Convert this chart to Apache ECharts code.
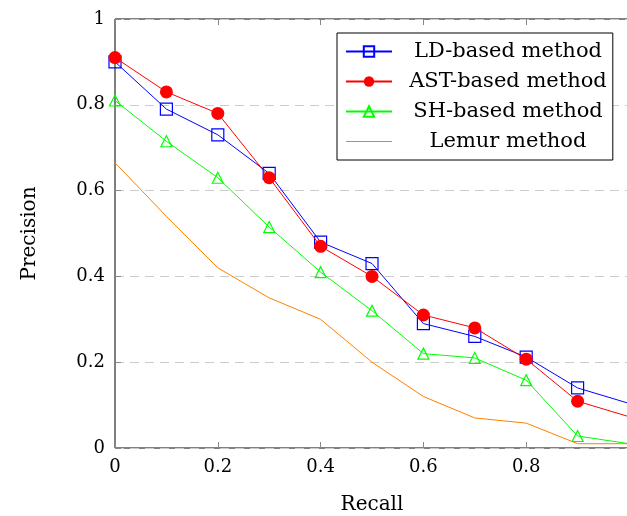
<!DOCTYPE html>
<html>
<head>
<meta charset="utf-8">
<script src="https://cdn.jsdelivr.net/npm/echarts@6/dist/echarts.min.js"></script>
<style>
  html, body { margin: 0; padding: 0; background: #fff; }
  #main { width: 627px; height: 516px; }
</style>
</head>
<body>
<div id="main"></div>
<script>
// recall values (x)
var recall = [0, 0.1, 0.2, 0.3, 0.4, 0.5, 0.6, 0.7, 0.8, 0.9, 1.0];

// precision per method
var ldBased = [0.90, 0.79, 0.73, 0.64, 0.48, 0.43, 0.29, 0.26, 0.212, 0.14, 0.104];
var astBased = [0.91, 0.83, 0.78, 0.63, 0.47, 0.40, 0.31, 0.28, 0.207, 0.109, 0.073];
var shBased = [0.81, 0.715, 0.63, 0.515, 0.41, 0.32, 0.22, 0.21, 0.158, 0.028, 0.01];
var lemur = [0.665, 0.54, 0.42, 0.35, 0.30, 0.20, 0.12, 0.07, 0.058, 0.01, 0.01];

var names = ['LD-based method', 'AST-based method', 'SH-based method', 'Lemur method'];

// last point sits on the cropped right edge, no marker there
function pairs(ys) {
  return recall.map(function (x, i) {
    if (i === recall.length - 1) return { value: [x, ys[i]], symbol: 'none' };
    return [x, ys[i]];
  });
}

function tickFmt(v) {
  if (v === 0) return '0';
  if (v === 1) return '1';
  return v.toFixed(1);
}

var font = 'DejaVu Serif';
var myChart = echarts.init(document.getElementById('main'));

myChart.setOption({
  animation: false,
  textStyle: { fontFamily: font },
  grid: {
    left: 115, top: 19, right: -2, bottom: 68,
    outerBoundsMode: 'none', containLabel: false,
    show: true, borderColor: '#000', borderWidth: 1
  },
  legend: {
    data: [
      { name: names[0] },
      { name: names[1] },
      { name: names[2] },
      { name: names[3], icon: 'path://M0,0h40v1h-40z' }
    ],
    orient: 'vertical',
    left: 337, top: 33,
    padding: [8, 6, 8, 8],
    itemGap: 9,
    itemWidth: 46, itemHeight: 13,
    backgroundColor: '#fff',
    borderColor: '#000', borderWidth: 1,
    formatter: function (n) { return '{c|' + n + '}'; },
    textStyle: {
      fontFamily: font,
      rich: { c: { width: 222, height: 22, align: 'center', fontSize: 21, fontFamily: font, color: '#000' } }
    }
  },
  xAxis: [{
    type: 'value', min: 0, max: 1, interval: 0.2,
    position: 'bottom',
    name: 'Recall', nameLocation: 'middle', nameGap: 47,
    nameTextStyle: { fontSize: 20, color: '#000', fontFamily: font },
    axisLine: { show: false },
    axisTick: { inside: true, length: 6, lineStyle: { color: '#888' } },
    axisLabel: {
      fontSize: 18, color: '#000', fontFamily: font, margin: 10,
      formatter: function (v) { return v === 1 ? '' : tickFmt(v); }
    },
    splitLine: { show: false }
  }, {
    type: 'value', min: 0, max: 1, interval: 0.2,
    position: 'top',
    axisLine: { show: false },
    axisTick: { inside: true, length: 6, lineStyle: { color: '#888' } },
    axisLabel: { show: false },
    splitLine: { show: false }
  }],
  yAxis: {
    type: 'value', min: 0, max: 1, interval: 0.2,
    name: 'Precision', nameLocation: 'middle', nameGap: 75,
    nameTextStyle: { fontSize: 20, color: '#000', fontFamily: font },
    axisLine: { show: false },
    axisTick: { inside: true, length: 6, lineStyle: { color: '#888' } },
    axisLabel: {
      fontSize: 18, color: '#000', fontFamily: font, margin: 10,
      formatter: tickFmt
    },
    splitLine: { show: true, lineStyle: { color: '#cccccc', type: [9, 6], width: 1.2 } }
  },
  series: [{
    name: names[0], type: 'line', data: pairs(ldBased),
    symbol: 'rect', symbolSize: 12,
    lineStyle: { color: '#0000ff', width: 1 },
    itemStyle: { color: 'transparent', borderColor: '#0000ff', borderWidth: 1.2 },
    z: 3
  }, {
    name: names[1], type: 'line', data: pairs(astBased),
    symbol: 'circle', symbolSize: 13,
    lineStyle: { color: '#ff0000', width: 1 },
    itemStyle: { color: '#ff0000', borderWidth: 0 },
    z: 4
  }, {
    name: names[2], type: 'line', data: pairs(shBased),
    symbol: 'triangle', symbolSize: 11,
    lineStyle: { color: '#00ff00', width: 1 },
    itemStyle: { color: 'transparent', borderColor: '#00ff00', borderWidth: 1.2 },
    z: 2
  }, {
    name: names[3], type: 'line', data: pairs(lemur),
    symbol: 'none', showSymbol: false,
    lineStyle: { color: '#ff8000', width: 1 },
    itemStyle: { color: '#ff8000' },
    z: 1
  }]
});
</script>
</body>
</html>
